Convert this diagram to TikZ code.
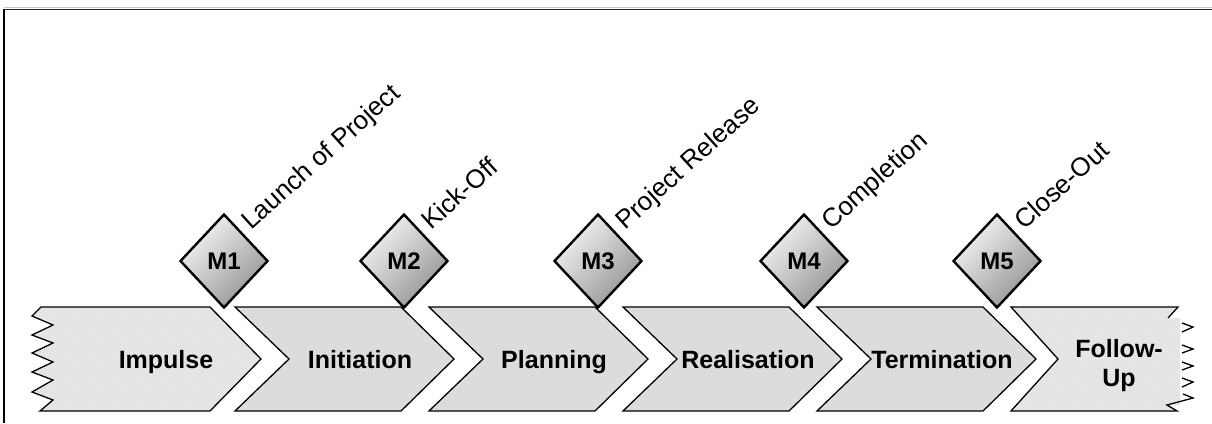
\documentclass[tikz,border=0pt]{standalone}
\usepackage{fontspec}
\setmainfont{Liberation Sans}
\usetikzlibrary{shapes.geometric,patterns}
\definecolor{chev}{HTML}{DCDCDC}
\definecolor{chevlight}{HTML}{E8E8E8}
\begin{document}
\begin{tikzpicture}[x=1pt,y=-1pt,
  chevbox/.style={fill=chev, draw=black, line width=1.3pt, line join=miter},
  lightbox/.style={draw=black, line width=1.3pt, line join=miter,
    preaction={fill=chevlight},
    preaction={pattern=north east lines, pattern color=white!75!gray}},
  lightfill/.style={fill=chevlight, postaction={pattern=north east lines, pattern color=white!75!gray}},
  edge/.style={draw=black, line width=1.3pt, line join=miter},
  phase/.style={font=\bfseries\fontsize{25}{29}\selectfont, inner sep=0pt, align=center},
  mile/.style={diamond, draw=black, line width=2.4pt, minimum width=88pt, minimum height=94pt,
    inner sep=0pt, top color=white!96!black, bottom color=black!42, shading angle=45,
    font=\bfseries\fontsize{24}{28}\selectfont},
  milelabel/.style={font=\fontsize{26}{30}\selectfont, rotate=42, anchor=base west, inner sep=0pt}
]
\useasboundingbox (0,0) rectangle (1212,423);
% frame
\draw[line width=1pt, gray!45] (4,7.3) -- (1212,7.3);
\draw[line width=1.6pt, black!85] (4,9.3) -- (1212,9.3);
\draw[line width=2pt, black] (4,8.5) -- (4,423);

% Impulse
\draw[lightbox] (41,307) -- (210,307) -- (261,359) -- (210,411) -- (40,411) -- (53,400) -- (32,392) -- (53,380) -- (32,372) -- (53,362) -- (32,353) -- (53,343) -- (32,335) -- (53,325) -- (32,316) -- cycle;
\node[phase, anchor=base] (imp) at (166,368) {Impulse};

% middle phases
\foreach \L/\name/\txt in {235/ini/Initiation, 429/pla/Planning, 623/rea/Realisation, 817/ter/Termination} {
  \filldraw[chevbox] (\L,307) -- ++(166,0) -- ++(53,52) -- ++(-53,52) -- ++(-166,0) -- ++(54,-52) -- cycle;
  \node[phase, anchor=base] (\name) at (\L+125,368) {\txt};
}

% Follow-Up
\fill[lightfill] (1011,307) -- (1178,307) -- (1168,318) -- (1180,318) -- (1180,405) -- (1167,405) -- (1177,411) -- (1011,411) -- (1058,359) -- cycle;
\draw[edge] (1168,318) -- (1178,307) -- (1011,307) -- (1058,359) -- (1011,411) -- (1177,411) -- (1167,405) -- (1193,398) -- (1183,394);
\draw[edge] (1182,323) -- (1193,327) -- (1182,332);
\draw[edge] (1182,345) -- (1193,349) -- (1182,353);
\draw[edge] (1182,362) -- (1193,366) -- (1182,370);
\draw[edge] (1182,378) -- (1193,382) -- (1182,387);
\node[phase] (fol) at (1119,366) {Follow-\\Up};

% milestones
\foreach \x/\name/\m/\lab in {224/m1/M1/Launch of Project, 404/m2/M2/Kick-Off, 598/m3/M3/Project Release, 804/m4/M4/Completion, 997/m5/M5/Close-Out} {
  \node[mile] (\name) at (\x,261) {\m};
  \node[milelabel] (\name l) at (\x+27,231) {\lab};
}
\end{tikzpicture}
\end{document}
